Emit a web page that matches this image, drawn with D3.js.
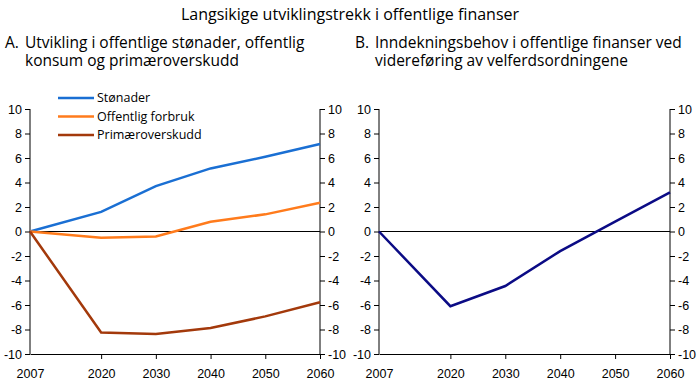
<!DOCTYPE html>
<html>
<head>
<meta charset="utf-8">
<script src="https://cdn.jsdelivr.net/npm/d3@7"></script>
<style>
  body { margin: 0; background: #fff; }
  svg { font-family: "Open Sans", "Noto Sans", sans-serif; }
  .axis text { font-size: 12.5px; fill: #000; }
  .axis path, .axis line { stroke: #000; }
</style>
</head>
<body>
<script>
var width = 700,
  height = 384;

var years = [2007, 2020, 2030, 2040, 2050, 2060];
var yTicks = [-10, -8, -6, -4, -2, 0, 2, 4, 6, 8, 10];

var stonader = [0, 1.6, 3.7, 5.15, 6.1, 7.15];
var offentligForbruk = [0, -0.5, -0.4, 0.8, 1.4, 2.35];
var primaeroverskudd = [0, -8.25, -8.37, -7.88, -6.93, -5.77];
var inndekning = [0, -6.1, -4.45, -1.6, 0.8, 3.2];

var seriesA = [
  { name: "Stønader", values: stonader, color: "#1a6fd3" },
  { name: "Offentlig forbruk", values: offentligForbruk, color: "#ff7b1c" },
  { name: "Primæroverskudd", values: primaeroverskudd, color: "#a3390b" }
];
var seriesB = [
  { name: "Inndekningsbehov", values: inndekning, color: "#0b0b85" }
];

// reference uses a plain hyphen for negatives
var fmtY = function(d) { return String(d); };

var svg = d3.select("body").append("svg")
  .attr("width", width)
  .attr("height", height);

svg.append("text")
  .attr("x", 350)
  .attr("y", 20)
  .attr("text-anchor", "middle")
  .attr("font-size", "16px")
  .text("Langsikige utviklingstrekk i offentlige finanser");

var y = d3.scaleLinear()
  .domain([-10, 10])
  .range([354, 109]);

function panel(left, right, letter, lines, series, textX) {
  var x = d3.scaleLinear()
    .domain([2007, 2060])
    .range([left, right]);

  var title = svg.append("g").attr("font-size", "15.5px");
  title.append("text").attr("x", textX).attr("y", 48).text(letter);
  lines.forEach(function(l, i) {
    title.append("text")
      .attr("x", textX + 20)
      .attr("y", 48 + i * 18)
      .text(l);
  });

  svg.append("g")
    .attr("class", "axis")
    .attr("transform", "translate(" + left + ",0)")
    .call(d3.axisLeft(y).tickValues(yTicks).tickFormat(fmtY).tickSize(5).tickSizeOuter(0).tickPadding(3))
    .call(function(g) { g.select(".domain").attr("d", "M0,109V354"); });

  svg.append("g")
    .attr("class", "axis")
    .attr("transform", "translate(" + right + ",0)")
    .call(d3.axisRight(y).tickValues(yTicks).tickFormat(fmtY).tickSize(5).tickSizeOuter(0).tickPadding(3))
    .call(function(g) { g.select(".domain").attr("d", "M0,109V354"); });

  svg.append("g")
    .attr("class", "axis")
    .attr("transform", "translate(0,354)")
    .call(d3.axisBottom(x).tickValues(years).tickFormat(d3.format("d")).tickSize(5).tickSizeOuter(0).tickPadding(10))
    .call(function(g) { g.selectAll(".tick line").filter(function(d) { return d === 2007; }).remove(); });

  svg.append("line")
    .attr("x1", left).attr("x2", right)
    .attr("y1", y(0)).attr("y2", y(0))
    .attr("stroke", "#000")
    .attr("stroke-width", 1);

  var line = d3.line()
    .x(function(d, i) { return x(years[i]); })
    .y(function(d) { return y(d); });

  series.forEach(function(s) {
    svg.append("path")
      .datum(s.values)
      .attr("fill", "none")
      .attr("stroke", s.color)
      .attr("stroke-width", 2.5)
      .attr("d", line);
  });
}

panel(30, 320, "A.", ["Utvikling i offentlige stønader, offentlig", "konsum og primæroverskudd"], seriesA, 5);
panel(379, 670, "B.", ["Inndekningsbehov i offentlige finanser ved", "videreføring av velferdsordningene"], seriesB, 355);

var legend = svg.append("g").attr("transform", "translate(58,98)");
seriesA.forEach(function(s, i) {
  var g = legend.append("g").attr("transform", "translate(0," + (i * 18.5) + ")");
  g.append("line")
    .attr("x1", 0).attr("x2", 36)
    .attr("stroke", s.color)
    .attr("stroke-width", 2.5);
  g.append("text")
    .attr("x", 39)
    .attr("dy", "0.35em")
    .attr("font-size", "12.5px")
    .text(s.name);
});
</script>
</body>
</html>
